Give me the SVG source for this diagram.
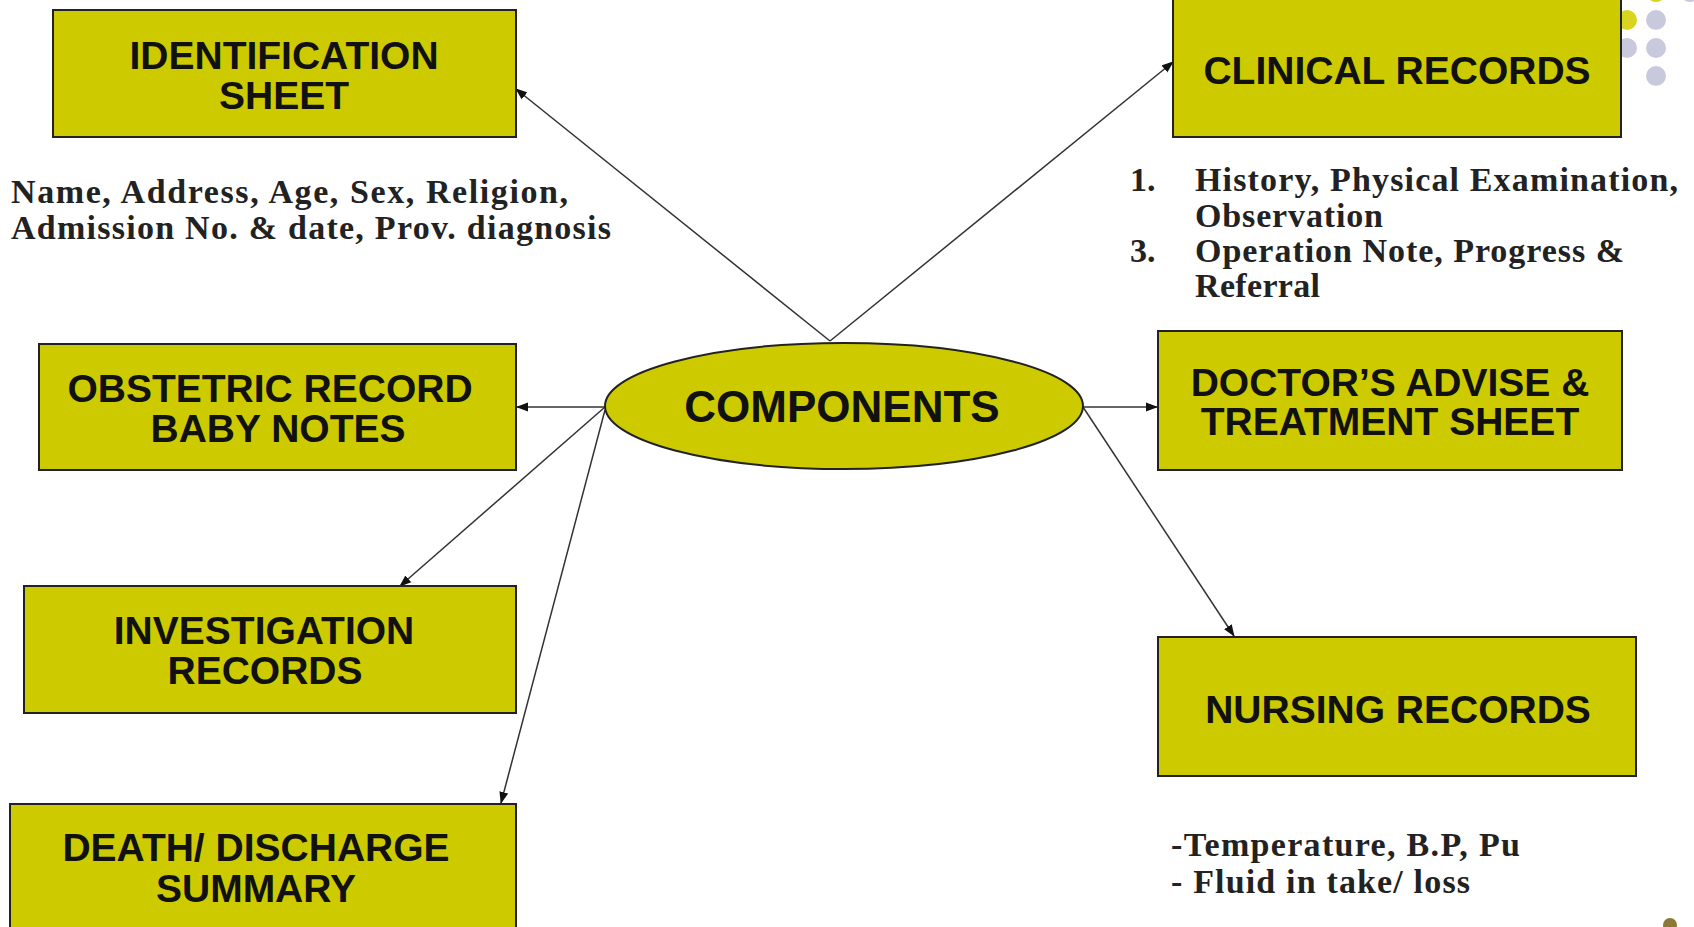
<svg xmlns="http://www.w3.org/2000/svg" width="1694" height="927" viewBox="0 0 1694 927">
<style>
.box{fill:#CDCB00;stroke:#222;stroke-width:2}
.bt{font-family:"Liberation Sans",Arial,sans-serif;font-weight:bold;font-size:39px;fill:#111;text-anchor:middle}
.st{font-family:"Liberation Serif","Times New Roman",serif;font-weight:bold;font-size:34px;fill:#222}
.con{stroke:#333;stroke-width:1.5;fill:none;marker-end:url(#ah)}
.dy{fill:#D8D420}
.dl{fill:#C9C9DD}
</style>
<defs>
<marker id="ah" markerWidth="12" markerHeight="10" refX="11" refY="5" orient="auto" markerUnits="userSpaceOnUse">
<path d="M0,0.5 L12,5 L0,9.5 Z" fill="#111"/>
</marker>
</defs>
<rect width="1694" height="927" fill="#fff"/>
<g id="decor">
<circle class="dy" cx="1656" cy="-8" r="10"/>
<circle class="dl" cx="1690" cy="-8" r="10"/>
<circle class="dy" cx="1627" cy="20" r="10"/>
<circle class="dl" cx="1656" cy="20" r="10"/>
<circle class="dl" cx="1627" cy="48" r="10"/>
<circle class="dl" cx="1656" cy="48" r="10"/>
<circle class="dl" cx="1656" cy="76" r="10"/>
<circle cx="1670" cy="925" r="7" fill="#8a7a35"/>
</g>
<g id="connectors">
<line class="con" x1="830" y1="341" x2="516" y2="89"/>
<line class="con" x1="830" y1="341" x2="1173" y2="62"/>
<line class="con" x1="605" y1="407" x2="517" y2="407"/>
<line class="con" x1="605" y1="407" x2="400" y2="586"/>
<line class="con" x1="605" y1="410" x2="501" y2="803"/>
<line class="con" x1="1083" y1="407" x2="1157" y2="407"/>
<line class="con" x1="1083" y1="407" x2="1234" y2="636"/>
</g>
<g id="components">
<ellipse class="box" cx="844" cy="406" rx="239" ry="63"/>
<text class="bt" x="842" y="422" style="font-size:44px">COMPONENTS</text>
</g>
<g id="identification">
<rect class="box" x="53" y="10" width="463" height="127"/>
<text class="bt" x="284" y="69">IDENTIFICATION</text>
<text class="bt" x="284" y="109">SHEET</text>
</g>
<g id="identification-details">
<text class="st" x="11" y="203" textLength="557" lengthAdjust="spacing">Name, Address, Age, Sex, Religion,</text>
<text class="st" x="11" y="239" textLength="600" lengthAdjust="spacing">Admission No. &amp; date, Prov. diagnosis</text>
</g>
<g id="clinical">
<rect class="box" x="1173" y="-2" width="448" height="139"/>
<text class="bt" x="1397" y="84">CLINICAL RECORDS</text>
</g>
<g id="clinical-details">
<text class="st" x="1130" y="191">1.</text>
<text class="st" x="1195" y="191" textLength="483" lengthAdjust="spacing">History, Physical Examination,</text>
<text class="st" x="1195" y="227" textLength="188" lengthAdjust="spacing">Observation</text>
<text class="st" x="1130" y="262">3.</text>
<text class="st" x="1195" y="262" textLength="429" lengthAdjust="spacing">Operation Note, Progress &amp;</text>
<text class="st" x="1195" y="297" textLength="125" lengthAdjust="spacing">Referral</text>
</g>
<g id="obstetric">
<rect class="box" x="39" y="344" width="477" height="126"/>
<text class="bt" x="270" y="402">OBSTETRIC RECORD</text>
<text class="bt" x="278" y="442">BABY NOTES</text>
</g>
<g id="investigation">
<rect class="box" x="24" y="586" width="492" height="127"/>
<text class="bt" x="264" y="644">INVESTIGATION</text>
<text class="bt" x="265" y="684">RECORDS</text>
</g>
<g id="death">
<rect class="box" x="10" y="804" width="506" height="130"/>
<text class="bt" x="256" y="861">DEATH/ DISCHARGE</text>
<text class="bt" x="256" y="902">SUMMARY</text>
</g>
<g id="doctor">
<rect class="box" x="1158" y="331" width="464" height="139"/>
<text class="bt" x="1390" y="396">DOCTOR’S ADVISE &amp;</text>
<text class="bt" x="1390" y="435">TREATMENT SHEET</text>
</g>
<g id="nursing">
<rect class="box" x="1158" y="637" width="478" height="139"/>
<text class="bt" x="1398" y="723">NURSING RECORDS</text>
</g>
<g id="nursing-details">
<text class="st" x="1171" y="856" textLength="349" lengthAdjust="spacing">-Temperature, B.P, Pu</text>
<text class="st" x="1171" y="893" textLength="299" lengthAdjust="spacing">- Fluid in take/ loss</text>
</g>
</svg>
